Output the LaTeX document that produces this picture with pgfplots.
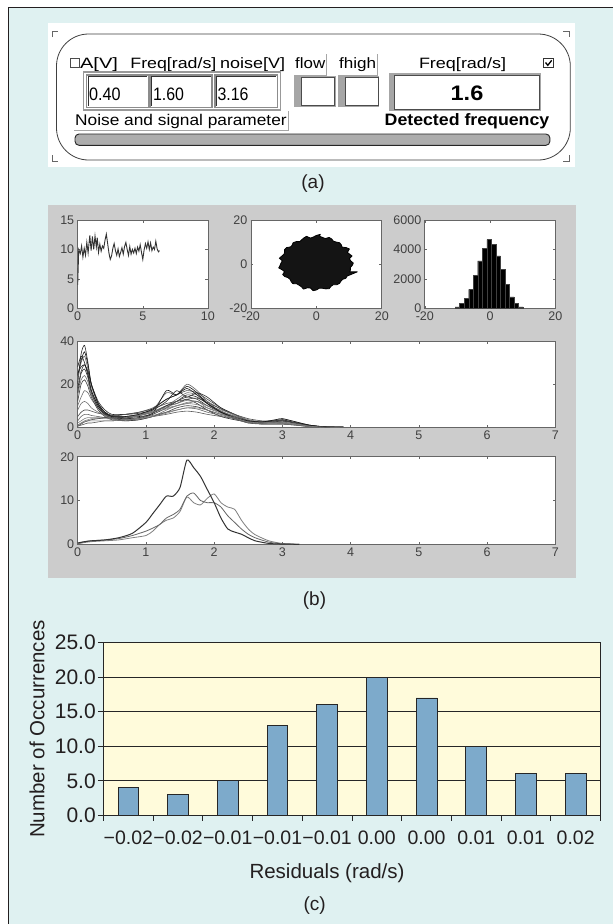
\documentclass[border=0pt]{standalone}
\usepackage{fontspec}
\setmainfont{Liberation Sans}
\usepackage{graphicx}
\usepackage{pgfplots}
\usepackage{pgfplotstable}
\pgfplotsset{compat=1.18}

\definecolor{bgcyan}{RGB}{223,241,241}
\definecolor{mgrey}{RGB}{204,204,204}
\definecolor{chartbg}{RGB}{255,251,219}
\definecolor{barblue}{RGB}{125,170,203}
\definecolor{frameblk}{RGB}{35,31,32}

\newcommand\fs[1]{\fontsize{#1}{#1}\selectfont}
\newcommand\gtx[3]{\resizebox{#1pt}{\height}{\fs{#2}#3}}

\pgfplotsset{
  mlab/.style={scale only axis, anchor=south west,
    axis background/.style={fill=white},
    axis line style={draw=black!60, line width=0.7pt},
    tick style={draw=black!60, line width=0.6pt},
    major tick length=2.5pt, tick align=inside,
    ticklabel style={font=\fs{12.5}, text=black!75},
    /pgf/number format/assume math mode=true,
    /pgf/number format/1000 sep={}, scaled ticks=false},
}

% spectra, upper wide plot
\pgfplotstableread{
x    c1  c2  c3  c4  c5  c6   c7  c8  c9  c10 c11 c12  c13 c14 c15  c16  c17 c18
0.00 20  22  18  15  5   2    0.5 25  10  12  28  1    3   16  8    0.5  24  1
0.05 34  30  26  22  7   3    1   28  14  20  33  2    5   25  11   1.5  31  2
0.10 38  33  29  24  8   4    1.5 29  17  22  30  3    6   27  12   2.5  35  2.5
0.15 30  27  25  21  8   4.5  2   26  16  19  24  3.5  6   23  11   3    29  3
0.20 20  19  17  15  7.5 4.5  2   20  13  14  17  4    5.5 16  9    3.5  20  3
0.30 11  11  10  9   6.5 4.5  2.5 12  9   8   10  4    5   9   7    4    11  3
0.40 7   7   6   5.5 6   4.5  3   8   6   5   6.5 4    4.5 6   5.5  4.5  7   3
0.50 5.5 5   4   4   5.5 4.5  3   6   5   3.5 5   4    4   4.5 5    5    5   3
0.70 5   4.5 3.5 3   6   5    3.5 6   5   3   4.5 4.5  4   4   5    6    5   3.5
0.90 5.5 5.5 4   3.5 7   6    4   6.5 6   3.5 5   5.5  4.5 4.5 5.5  7    6   4
1.10 7   8   6   5   9   7.5  5   8   7.5 5   6.5 7    5.5 6.5 7    8.5  8.5 5
1.30 10  16  9   8   13  9    6   12  10  7   17  8.5  7   10  9.5  11   13  6.5
1.45 11  15  12  10  15  10   7   17  13  9   15  10   8   12  11   12   15  8
1.60 13  20  14  11  17  11   7.5 14  16  10  19  11.5 9   15  12.5 13   18  9
1.75 11  17  13  12  16  10.5 7   16  15  9.5 16  12   8.5 14  12   13.5 15  9
1.90 8   12  10  9   13  9    6   14  12  8   11  10   7   11  10   11.5 11  8
2.10 5   7   7   6.5 9   7    5   9   8.5 6   7   8    5.5 7.5 7.5  8.5  7   6
2.30 3.5 4   5   4   6   5    4   6   5.5 4.5 4.5 6    4   5   5    6    4.5 4.5
2.50 2.5 2   3   2.5 3   2.5  2   3   3.5 3   2.5 3.5  2.5 3   3    4    3   2.5
2.70 2.5 2   2   2.5 2   1.5  1.5 2.5 2.5 2   2   2.5  1.5 2.5 2    3    2.5 2
2.90 3   2.5 2   3.5 2   1.5  1.5 3   2.5 2.5 2.5 2    1.5 3   2.5  3    3.5 2
3.00 3   2   2   4   2   1.5  1.5 3.5 2.5 3   3   2    1.5 3.5 2.5  3    4   2
3.20 2   1.5 1.5 2.5 1.5 1    1   2   1.5 2   2   1.5  1   2   1.5  2    2.5 1.5
3.40 1   0.6 0.5 1   0.5 0.4  0.3 0.8 0.5 0.8 0.8 0.6  0.3 0.8 0.6  0.8  1   0.5
3.60 0.3 0.2 0.1 0.3 0.2 0.1  0.1 0.2 0.1 0.3 0.2 0.2  0.1 0.2 0.2  0.2  0.3 0.1
3.90 0   0   0   0   0   0    0   0   0   0   0   0.1  0   0   0    0    0   0
}\specA

% averaged spectra, lower wide plot
\pgfplotstableread{
x    d1   d2   d3
0.0  0.3  0.2  0.1
0.1  0.6  0.6  0.4
0.2  0.8  0.8  0.6
0.4  1.0  1.0  0.8
0.6  1.5  1.3  1.0
0.8  2.5  2.0  1.5
1.0  5.0  3.0  2.0
1.1  7.0  3.7  3.0
1.2  9.0  4.5  4.5
1.3  11.0 6.0  5.5
1.4  11.0 6.8  6.0
1.5  13.0 8.0  7.5
1.6  19.2 11.0 10.8
1.7  17.5 11.7 9.5
1.8  15.5 10.0 9.0
1.9  12.5 9.5  10.5
2.0  9.5  9.5  11.5
2.1  6.0  8.5  9.5
2.2  3.5  6.5  8.5
2.3  2.8  5.0  8.0
2.4  2.3  3.5  5.5
2.5  1.5  2.3  3.5
2.6  0.8  1.5  2.2
2.8  0.2  0.5  0.8
3.0  0.05 0.1  0.2
3.25 0    0    0
}\specB

\begin{document}
\begin{tikzpicture}[x=1pt,y=1pt]
\path[use as bounding box] (0,0) rectangle (613,-924);
\fill[white] (0,0) rectangle (613,-924);
\fill[bgcyan] (9,-8) rectangle (613,-924);
\draw[frameblk, line width=1.6pt] (8.5,-924) -- (8.5,-7.5) -- (613,-7.5);

% anchor points of the axes (lower left corners)
\coordinate (p1) at (77.7,-308.3);
\coordinate (p2) at (250.9,-308.3);
\coordinate (p3) at (424.8,-308.3);
\coordinate (p4) at (77.7,-427.3);
\coordinate (p5) at (77.7,-544.3);
\coordinate (pc) at (103.5,-815.3);

% ---------- (a) GUI panel
\fill[white] (48,-23) rectangle (575,-167);
\begin{scope}[black!60, line width=0.8pt]
\draw (52,-37)--(52,-31)--(58,-31);
\draw (563,-31)--(569,-31)--(569,-37);
\draw (52,-155)--(52,-161)--(58,-161);
\draw (563,-161)--(569,-161)--(569,-155);
\end{scope}
\draw[black!75, line width=0.8pt, rounded corners=32pt] (56.5,-34) rectangle (570.3,-160);

\draw[black!70, fill=white, line width=0.9pt] (70,-58.3) rectangle (79,-67.5);
\node[anchor=base west, inner sep=0] at (79.8,-68) {\gtx{38}{15}{A[V]}};
\node[anchor=base west, inner sep=0] at (130.2,-68) {\gtx{86}{15}{Freq[rad/s]}};
\node[anchor=base west, inner sep=0] at (220,-68) {\gtx{65}{15}{noise[V]}};
\node[anchor=base west, inner sep=0] at (295,-68) {\gtx{30}{15}{flow}};
\node[anchor=base west, inner sep=0] at (339,-68) {\gtx{37}{15}{fhigh}};
\draw[black!35, line width=0.8pt] (294,-75)--(326,-75)--(326,-54);
\draw[black!35, line width=0.8pt] (338,-75)--(377,-75)--(377,-54);
\node[anchor=base west, inner sep=0] at (418.8,-68) {\gtx{87}{15}{Freq[rad/s]}};
\draw[black!80, fill=white, line width=0.9pt] (543.5,-58.3) rectangle (553.5,-67.5);
\draw[black, line width=1.3pt] (545.5,-62.5)--(547.8,-65.3)--(551.7,-60.3);

\draw[black!40, line width=1.5pt] (83.5,-72) rectangle (280.5,-110);
\foreach \a/\b in {86.5/148.5, 150.2/212.2, 215/277.6}{
  \draw[fill=white, draw=black!45, line width=1.6pt] (\a,-75) rectangle (\b,-107.3);
  \draw[black!80, line width=0.7pt] (\a+1.6,-105.8)--(\a+1.6,-76.6)--(\b-1.6,-76.6);
}
\node[anchor=base west, inner sep=0] at (89,-100.7) {\gtx{31.5}{18}{0.40}};
\node[anchor=base west, inner sep=0] at (152.8,-100.7) {\gtx{31}{18}{1.60}};
\node[anchor=base west, inner sep=0] at (217.3,-100.7) {\gtx{31}{18}{3.16}};

\fill[black!35] (294,-76) rectangle (335.5,-106.7);
\draw[fill=white, draw=black!70, line width=0.7pt] (301.5,-77.5) rectangle (334.5,-105.5);
\fill[black!35] (338,-76) rectangle (379.2,-106.7);
\draw[fill=white, draw=black!70, line width=0.7pt] (345.5,-77.5) rectangle (378.2,-105.5);
\fill[black!35] (388.5,-73.3) rectangle (541,-111);
\draw[fill=white, draw=black!70, line width=0.8pt] (394,-75) rectangle (539.5,-109.5);
\node[inner sep=0] at (467,-93.3) {\gtx{32.7}{21}{\bfseries 1.6}};

\node[anchor=base west, inner sep=0] at (75,-125.5) {\gtx{211.5}{15.5}{Noise and signal parameter}};
\draw[black!35, line width=0.8pt] (74,-130.5)--(288.5,-130.5)--(288.5,-110.5);
\node[anchor=base, inner sep=0] at (467,-125) {\gtx{164.6}{16.5}{\bfseries Detected frequency}};
\draw[fill=black!32, draw=black!85, line width=0.9pt, rounded corners=4pt] (75,-134) rectangle (549.9,-145.3);

\node[text=frameblk] at (313,-184) {\fs{19}(a)};

% ---------- (b) MATLAB plots
\fill[mgrey] (47.8,-205) rectangle (576,-578);

\begin{axis}[mlab, at={(p1)}, width=130.2pt, height=88.3pt,
  xmin=0, xmax=10, ymin=0, ymax=15, xtick={0,5,10}, ytick={0,5,10,15}]
\addplot[black!80, line width=0.9pt] coordinates {
(0,4)(0.04,7)(0.08,10)(0.2,9.3)(0.3,10.6)(0.4,8.7)(0.5,10.2)(0.6,9)(0.7,11.2)(0.8,9.4)
(0.93,12.4)(1.03,9.8)(1.13,12.2)(1.23,10)(1.33,12.3)(1.43,10.4)(1.5,12)(1.6,9.5)(1.7,10.9)
(1.8,9.7)(1.9,10.6)(2.0,10.2)(2.1,11.6)(2.2,12.6)(2.3,11)(2.4,9.4)(2.5,8.3)(2.6,8.9)
(2.7,10.2)(2.8,11)(2.9,9.8)(3.0,9)(3.1,10.1)(3.2,8.8)(3.3,9.5)(3.4,10.3)(3.5,9.2)(3.6,10.5)
(3.7,11.2)(3.8,10)(3.9,9)(4.0,10.5)(4.1,9.2)(4.2,10)(4.3,9.4)(4.4,10.2)(4.5,9.3)(4.6,10.4)
(4.7,9.7)(4.8,10.8)(4.9,9.5)(5.0,8.3)(5.1,9.9)(5.2,11)(5.3,10.2)(5.4,11.3)(5.5,10)(5.6,11.1)
(5.7,9.8)(5.8,10.4)(5.9,10)(6.0,11.4)(6.1,10.1)(6.2,9.6)(6.28,9.8)};
\end{axis}

\begin{axis}[mlab, at={(p2)}, width=130.9pt, height=88.3pt,
  xmin=-20, xmax=20, ymin=-20, ymax=20, xtick={-20,0,20}, ytick={-20,0,20}]
\addplot[fill=black!92, draw=black, line width=0.8pt, line join=round] coordinates {
(11.3,0.5)(10.5,1.5)(10.1,2.5)(10.9,3.7)(10.2,4.5)(9.5,5.3)(10.1,6.9)(9.1,7.5)(7.9,7.7)
(7.6,8.8)(7.1,9.7)(6.1,10.0)(5.2,10.4)(4.7,11.4)(3.9,12.1)(2.7,11.6)(1.9,12.1)(1.0,12.6)
(1.2,13.5)(0,13.0)(-0.9,12.3)(-1.8,11.8)(-3.0,12.6)(-3.8,11.9)(-4.5,11.0)(-5.1,10.2)
(-6.2,10.2)(-7.1,9.7)(-7.4,8.6)(-7.9,7.8)(-9.1,7.5)(-9.7,6.6)(-9.7,5.4)(-9.9,4.5)
(-10.6,3.6)(-11.3,2.7)(-10.4,1.5)(-10.8,0.5)(-11.1,-0.6)(-11.5,-1.7)(-10.4,-2.6)(-9.7,-3.4)
(-10.3,-4.7)(-9.7,-5.6)(-8.7,-6.1)(-8.0,-6.9)(-7.7,-7.9)(-7.2,-8.8)(-6.0,-8.9)(-5.3,-9.5)
(-4.6,-10.2)(-3.9,-11.3)(-2.7,-10.7)(-1.8,-10.8)(-1.0,-12.0)(0,-11.7)(0.9,-10.9)(1.8,-10.9)
(2.9,-11.2)(3.9,-11.1)(4.5,-10.0)(5.2,-9.3)(6.3,-9.3)(7.1,-8.7)(7.5,-7.7)(8.0,-6.9)
(9.0,-6.4)(9.4,-5.4)(12.5,-3.5)(10.2,-3.5)(10.4,-2.6)(10.4,-1.5)(11.0,-0.5)} -- cycle;
\end{axis}

\begin{axis}[mlab, at={(p3)}, width=130.5pt, height=88.3pt,
  xmin=-20, xmax=20, ymin=0, ymax=6000, xtick={-20,0,20}, ytick={0,2000,4000,6000}]
\addplot[ybar interval, fill=black, draw=black!75, line width=0.3pt] coordinates {
(-10.73,90)(-9.34,320)(-7.95,700)(-6.56,1290)(-5.17,2240)(-3.78,3220)(-2.39,4060)(-1.00,4670)
(0.39,4330)(1.78,3570)(3.17,2640)(4.56,1630)(5.95,780)(7.34,320)(8.73,90)(10.12,90)};
\end{axis}

\begin{axis}[mlab, at={(p4)}, width=477.6pt, height=86.3pt,
  xmin=0, xmax=7, ymin=0, ymax=40, xtick={0,...,7}, ytick={0,20,40}]
\foreach \c/\k in {c1/85, c2/60, c3/80, c4/55, c5/70, c6/50, c7/65, c8/85, c9/55,
                   c10/75, c11/90, c12/50, c13/60, c14/80, c15/55, c16/70, c17/90, c18/50}{
  \edef\tmp{\noexpand\addplot[black!\k, line width=0.6pt, smooth, tension=0.4] table[x=x, y=\c] {\noexpand\specA};}
  \tmp
}
\end{axis}

\begin{axis}[mlab, at={(p5)}, width=477.6pt, height=87.6pt,
  xmin=0, xmax=7, ymin=0, ymax=20, xtick={0,...,7}, ytick={0,10,20}]
\addplot[black!50, line width=0.8pt, smooth, tension=0.4] table[x=x, y=d3] {\specB};
\addplot[black!60, line width=0.8pt, smooth, tension=0.4] table[x=x, y=d2] {\specB};
\addplot[black!80, line width=1.0pt, smooth, tension=0.4] table[x=x, y=d1] {\specB};
\end{axis}

\node[text=frameblk] at (314.5,-601) {\fs{19}(b)};

% ---------- (c) residual histogram
\begin{axis}[at={(pc)}, anchor=south west, scale only axis,
  width=497pt, height=172.6pt,
  xmin=-0.5, xmax=9.5, ymin=0, ymax=25,
  axis background/.style={fill=chartbg},
  axis line style={black!85, line width=0.9pt},
  ytick={0,5,10,15,20,25}, ymajorgrids, grid style={black!85, line width=0.9pt},
  tick align=outside, major tick length=5.6pt, minor tick length=5.6pt,
  tick style={black!85, line width=0.9pt},
  xtick={0,...,9},
  xticklabels={−0.02,−0.02,−0.01,−0.01,−0.01,0.00,0.00,0.01,0.01,0.02},
  major x tick style={draw=none},
  minor xtick={-0.5,0.5,1.5,2.5,3.5,4.5,5.5,6.5,7.5,8.5,9.5},
  xtick pos=bottom, ytick pos=left,
  /pgf/number format/assume math mode=true,
  yticklabel style={/pgf/number format/fixed, /pgf/number format/fixed zerofill, /pgf/number format/precision=1},
  yticklabel style={font=\fs{21}, text=frameblk, inner sep=2pt},
  xticklabel style={font=\fs{19.5}, text=frameblk, inner sep=0pt, yshift=-10pt},
]
\addplot[ybar, bar width=20.7pt, fill=barblue, draw=black!85, line width=0.8pt]
  coordinates {(0,4) (1,3) (2,5) (3,13) (4,16) (5,20) (6,17) (7,10) (8,6) (9,6)};
\end{axis}
\node[rotate=90, text=frameblk] at (37,-729) {\fs{20.5}Number of Occurrences};
\node[text=frameblk] at (327,-873) {\fs{20.5}Residuals (rad/s)};
\node[text=frameblk] at (314.7,-906) {\fs{19}(c)};
\end{tikzpicture}
\end{document}
